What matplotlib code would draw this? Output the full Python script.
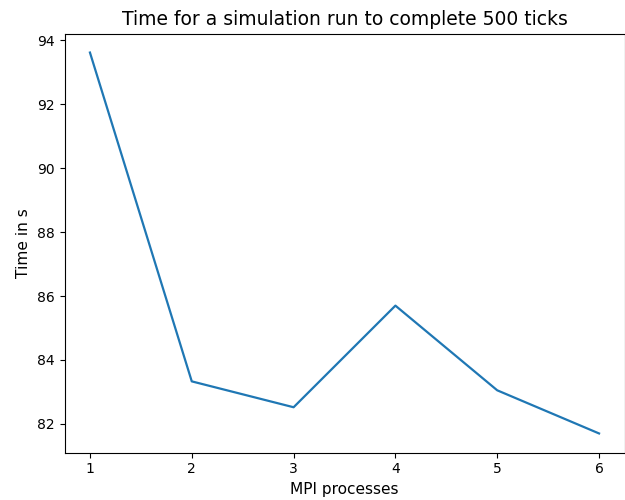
import matplotlib
matplotlib.use("Agg")
import matplotlib.pyplot as plt

processes = [1, 2, 3, 4, 5, 6]
times = [93.62, 83.33, 82.52, 85.70, 83.05, 81.70]

plt.rcParams["font.size"] = 10
plt.rcParams["axes.labelsize"] = 11.1
plt.rcParams["axes.titlesize"] = 13.5

fig = plt.figure(figsize=(6.25, 5), dpi=100)
ax = fig.add_axes([64.5 / 625, (500 - 452.5) / 500, (624.5 - 64.5) / 625, (452.5 - 33.5) / 500])
ax.plot(processes, times, linewidth=1.6)
ax.set_title("Time for a simulation run to complete 500 ticks")
ax.set_xlabel("MPI processes")
ax.set_ylabel("Time in s")
fig.savefig("out.png", dpi=100)
